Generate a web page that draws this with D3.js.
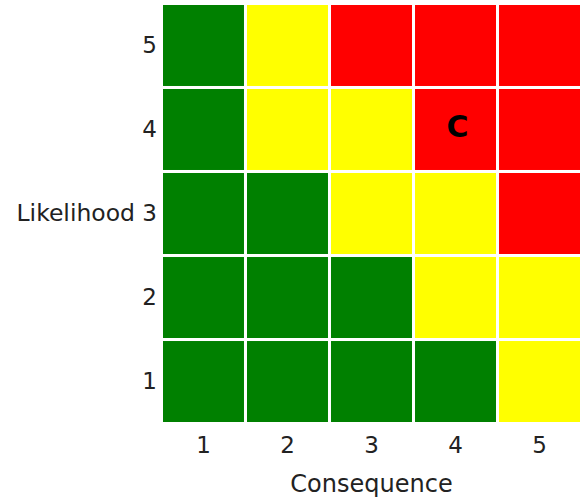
<!DOCTYPE html>
<html><head><meta charset="utf-8">
<script src="https://cdn.jsdelivr.net/npm/d3@7"></script>
<style>
html,body{margin:0;padding:0;background:#fff;}
svg{display:block;font-family:"DejaVu Sans",Verdana,sans-serif;}
</style></head>
<body>
<svg id="chart" width="581" height="499"></svg>
<script>
const consequence = [1, 2, 3, 4, 5];
const likelihood = [5, 4, 3, 2, 1];
// risk level per likelihood row (5..1), per consequence column (1..5)
const row5 = ["G", "Y", "R", "R", "R"];
const row4 = ["G", "Y", "Y", "R", "R"];
const row3 = ["G", "G", "Y", "Y", "R"];
const row2 = ["G", "G", "G", "Y", "Y"];
const row1 = ["G", "G", "G", "G", "Y"];
const levelColors = {G: "#008000", Y: "#ffff00", R: "#ff0000"};
const markers = [{likelihood: 4, consequence: 4, label: "C"}];
const xTitle = "Consequence";
const yTitle = "Likelihood";

const rows = [row5, row4, row3, row2, row1];
const cells = [];
rows.forEach((r, i) => r.forEach((lv, j) => cells.push({l: likelihood[i], c: consequence[j], lv})));

const svg = d3.select("#chart");
const x = d3.scaleBand().domain(consequence).range([163, 580]).paddingInner(0.036);
const y = d3.scaleBand().domain(likelihood).range([5, 422]).paddingInner(0.036);

svg.append("g").selectAll("rect").data(cells).join("rect")
  .attr("x", d => x(d.c)).attr("y", d => y(d.l))
  .attr("width", x.bandwidth()).attr("height", y.bandwidth())
  .attr("fill", d => levelColors[d.lv]);

svg.append("g").selectAll("text").data(markers).join("text")
  .attr("x", d => x(d.consequence) + x.bandwidth() / 2 + 2)
  .attr("y", d => y(d.likelihood) + y.bandwidth() / 2 - 3)
  .attr("text-anchor", "middle").attr("dominant-baseline", "central")
  .attr("font-size", 30).attr("font-weight", "bold").attr("fill", "#000")
  .text(d => d.label);

const yAxis = svg.append("g").attr("transform", "translate(163,0)")
  .call(d3.axisLeft(y).tickSize(0).tickPadding(6));
yAxis.select(".domain").remove();
yAxis.selectAll("text").attr("font-size", 23).attr("font-family", "DejaVu Sans").attr("fill", "#222");

const xAxis = svg.append("g").attr("transform", "translate(0,422)")
  .call(d3.axisBottom(x).tickSize(0).tickPadding(15));
xAxis.select(".domain").remove();
xAxis.selectAll("text").attr("font-size", 23).attr("font-family", "DejaVu Sans").attr("fill", "#222");

svg.append("text").attr("x", x(3) + x.bandwidth() / 2).attr("y", 492)
  .attr("text-anchor", "middle").attr("font-size", 24).attr("fill", "#222").text(xTitle);

svg.append("text").attr("x", 135).attr("y", y(3) + y.bandwidth() / 2)
  .attr("dy", "0.32em").attr("text-anchor", "end").attr("font-size", 23.5).attr("fill", "#222").text(yTitle);
</script>
</body></html>
